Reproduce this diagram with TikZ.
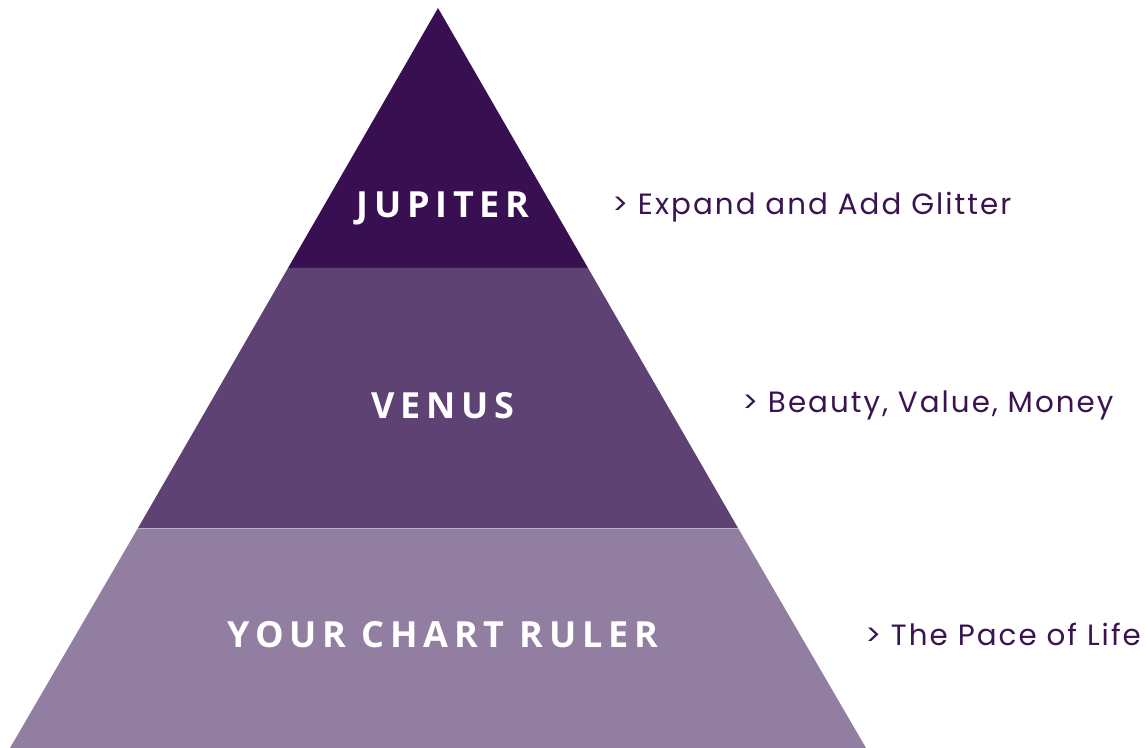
\documentclass[tikz,border=0pt]{standalone}
\usepackage{fontspec}
\usepackage{tikz}
\setmainfont{Poppins}[LetterSpace=7]
\newfontfamily\tierfont[LetterSpace=16]{Open Sans}
\definecolor{L0}{RGB}{56,15,80}
\definecolor{L1}{RGB}{95,66,116}
\definecolor{L2}{RGB}{145,126,160}
\definecolor{Ltext}{RGB}{58,20,80}
\tikzset{
  tier/.style={text=white,font=\tierfont\bfseries\fontsize{27}{30}\selectfont},
  note/.style={text=Ltext,anchor=west,inner sep=0pt,font=\fontsize{22}{24}\selectfont}
}

\begin{document}
\begin{tikzpicture}[x=0.75pt,y=-0.75pt]
        \useasboundingbox (0,0) rectangle (1148,748);
        \fill[L0] (438,8) -- (588,268) -- (288,268) -- cycle;
        \fill[L1] (288,268) -- (588,268) -- (738,528) -- (138,528) -- cycle;
        \fill[L2] (138,528) -- (738,528) -- (866,748) -- (10,748) -- cycle;
        \draw[white!40!L2,line width=0.5pt] (138,528) -- (738,528);

        \node[tier] (jupiter) at (443,208) {JUPITER};
        \node[tier] (venus) at (443,406) {VENUS};
        \node[tier] (ruler) at (443,635) {YOUR CHART RULER};

        \node[note] (expand) at (612,207) {> Expand and Add Glitter};
        \node[note] (beauty) at (742,405) {> Beauty, Value, Money};
        \node[note] (pace) at (865,634) {> The Pace of Life};
\end{tikzpicture}
\end{document}
